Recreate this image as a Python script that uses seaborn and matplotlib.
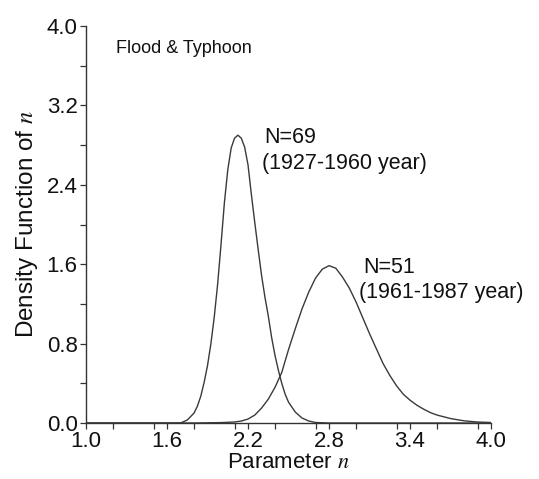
import matplotlib
matplotlib.use("Agg")
import matplotlib.pyplot as plt
import seaborn as sns
import pandas as pd
from matplotlib.ticker import MultipleLocator

# Curve for N=69 (1927-1960)
x_early = [1.00, 1.50, 1.70, 1.75, 1.80, 1.825, 1.85, 1.875, 1.90, 1.925, 1.95, 1.975,
           2.00, 2.025, 2.05, 2.075, 2.10, 2.125, 2.15, 2.175, 2.20, 2.225, 2.25, 2.275,
           2.30, 2.325, 2.35, 2.375, 2.40, 2.425, 2.45, 2.475, 2.50, 2.55, 2.60, 2.65,
           2.70, 2.80, 4.00]
y_early = [0.0, 0.0, 0.0, 0.03, 0.10, 0.17, 0.27, 0.41, 0.58, 0.80, 1.07, 1.40,
           1.80, 2.22, 2.55, 2.77, 2.87, 2.90, 2.87, 2.78, 2.60, 2.30, 2.02, 1.75,
           1.49, 1.27, 1.08, 0.86, 0.68, 0.53, 0.40, 0.29, 0.21, 0.11, 0.05, 0.02,
           0.005, 0.0, 0.0]

# Curve for N=51 (1961-1987)
x_late = [1.00, 1.80, 2.00, 2.10, 2.15, 2.20, 2.25, 2.30, 2.35, 2.40, 2.45, 2.50, 2.55,
          2.60, 2.65, 2.70, 2.75, 2.80, 2.85, 2.90, 2.95, 3.00, 3.05, 3.10, 3.15, 3.20,
          3.25, 3.30, 3.35, 3.40, 3.45, 3.50, 3.55, 3.60, 3.70, 3.80, 3.90, 4.00]
y_late = [0.0, 0.0, 0.004, 0.01, 0.02, 0.04, 0.08, 0.15, 0.24, 0.36, 0.51, 0.74, 0.95,
          1.15, 1.32, 1.46, 1.55, 1.585, 1.56, 1.47, 1.36, 1.22, 1.06, 0.90, 0.75, 0.60,
          0.48, 0.375, 0.29, 0.23, 0.18, 0.14, 0.105, 0.08, 0.045, 0.022, 0.01, 0.005]

x_ticks = [1.0, 1.6, 2.2, 2.8, 3.4, 4.0]
y_ticks = [0.0, 0.8, 1.6, 2.4, 3.2, 4.0]
x_tick_labels = ["1.0", "1.6", "2.2", "2.8", "3.4", "4.0"]
y_tick_labels = ["0.0", "0.8", "1.6", "2.4", "3.2", "4.0"]

df = pd.concat([
    pd.DataFrame({"n": x_early, "density": y_early, "period": "early"}),
    pd.DataFrame({"n": x_late, "density": y_late, "period": "late"}),
])

sns.set_style("ticks")
plt.rcParams["font.family"] = ["Liberation Sans", "DejaVu Sans"]
plt.rcParams["mathtext.fontset"] = "stix"

fig = plt.figure(figsize=(5.39, 4.79), dpi=100)
ax = fig.add_axes([0.1596, 0.1169, 0.7514, 0.8288])

sns.lineplot(data=df, x="n", y="density", hue="period", palette=["#3a3a3a", "#3a3a3a"],
             linewidth=1.0, sort=False, legend=False, ax=ax, estimator=None)
for ln in ax.lines:
    ln.set_solid_joinstyle("round")

ax.set_xlim(1.0, 4.0)
ax.set_ylim(0.0, 4.0)
ax.set_xticks(x_ticks)
ax.set_xticklabels(x_tick_labels)
ax.set_yticks(y_ticks)
ax.set_yticklabels(y_tick_labels)
ax.xaxis.set_minor_locator(MultipleLocator(0.3))
ax.yaxis.set_minor_locator(MultipleLocator(0.4))
ax.tick_params(which="both", direction="out", length=4, width=0.9, colors="#333333",
               labelcolor="#111111", labelsize=16, pad=2)
for s in ["top", "right"]:
    ax.spines[s].set_visible(False)
for s in ["left", "bottom"]:
    ax.spines[s].set_linewidth(1.0)
    ax.spines[s].set_color("#333333")

ax.set_xlabel("Parameter $n$", fontsize=16, color="#111111", labelpad=0)
ax.set_ylabel("Density Function of $n$", fontsize=17.5, color="#111111", labelpad=5)

ax.text(1.22, 3.77, "Flood & Typhoon", fontsize=13, color="#111111", va="center")
ax.text(2.32, 2.88, "N=69", fontsize=15.5, color="#111111", va="center")
ax.text(2.30, 2.61, "(1927-1960 year)", fontsize=15.5, color="#111111", va="center")
ax.text(3.05, 1.57, "N=51", fontsize=15.5, color="#111111", va="center")
ax.text(3.02, 1.31, "(1961-1987 year)", fontsize=15.5, color="#111111", va="center",
        clip_on=False)

fig.savefig("out.png", dpi=100)
